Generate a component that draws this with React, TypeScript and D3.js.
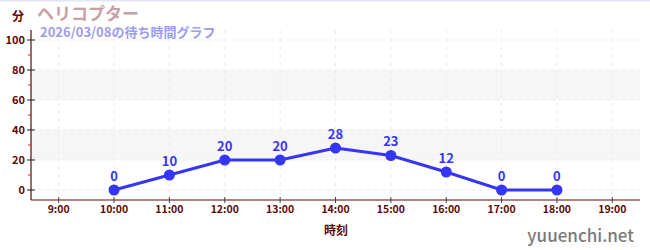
import React from "react";
import * as d3 from "d3";

const hours = [10, 11, 12, 13, 14, 15, 16, 17, 18];
const waits = [0, 10, 20, 20, 28, 23, 12, 0, 0];
const xTicks = [9, 10, 11, 12, 13, 14, 15, 16, 17, 18, 19];
const yTicks = [0, 20, 40, 60, 80, 100];
const yMinor = [10, 30, 50, 70, 90];
const bands = [[20, 40], [60, 80]];
const title = "ヘリコプター";
const subtitle = "2026/03/08の待ち時間グラフ";

const W = 650, H = 250;
const L = 31, R = 640, T = 30, B = 200;
const FONT = "'Noto Sans CJK JP', 'Noto Sans', sans-serif";

export default function App() {
  const x = d3.scaleLinear().domain([8.5, 19.5]).range([L, R]);
  const y = d3.scaleLinear().domain([-6.667, 106.667]).range([B, T]);
  const line = d3.line<number>().x((_, i) => x(hours[i])).y((d) => y(d));
  const axisColor = "#5a0a0a";
  return (
    <svg width={W} height={H} style={{ position: "absolute", left: 0, top: 0, background: "#fff" }}>
      <rect x={0} y={0} width={W} height={1.5} fill="#e4e4f8" />
      {bands.map(([a, b], i) => (
        <rect key={i} x={L} y={y(b)} width={R - L} height={y(a) - y(b)} fill="#f6f6f6" />
      ))}
      {yTicks.map((t) => (
        <line key={"gy" + t} x1={L} x2={R} y1={y(t)} y2={y(t)} stroke="#ebebeb" strokeDasharray="4,4" />
      ))}
      {xTicks.map((t) => (
        <line key={"gx" + t} x1={x(t)} x2={x(t)} y1={T} y2={B} stroke="#ebebeb" strokeDasharray="4,4" />
      ))}
      <line x1={L} x2={L} y1={T} y2={B} stroke={axisColor} strokeWidth={1.2} />
      <line x1={L} x2={R} y1={B} y2={B} stroke={axisColor} strokeWidth={1.2} />
      {yTicks.map((t) => (
        <g key={"yt" + t}>
          <line x1={L - 4} x2={L + 4} y1={y(t)} y2={y(t)} stroke="#222" strokeWidth={1} />
          <text x={L - 6} y={y(t) + 4} textAnchor="end" fontSize={11} fontWeight="bold" fill={axisColor} fontFamily={FONT}>{t}</text>
        </g>
      ))}
      {yMinor.map((t) => (
        <line key={"ym" + t} x1={L - 3} x2={L} y1={y(t)} y2={y(t)} stroke="#e02020" strokeWidth={1} />
      ))}
      {xTicks.map((t) => (
        <g key={"xt" + t}>
          <line x1={x(t)} x2={x(t)} y1={B - 3} y2={B + 3} stroke="#444" strokeWidth={1} />
          <text x={x(t)} y={B + 13} textAnchor="middle" fontSize={10.5} fontWeight="bold" fill={axisColor} fontFamily={FONT}>{`${t}:00`}</text>
        </g>
      ))}
      <path d={line(waits) || ""} fill="none" stroke="#3535f5" strokeWidth={3} />
      {waits.map((v, i) => (
        <g key={"p" + i}>
          <circle cx={x(hours[i])} cy={y(v)} r={5.5} fill="#3535f5" />
          <text x={x(hours[i])} y={y(v) - 9} textAnchor="middle" fontSize={13} fontWeight="bold" fill="#3535f5" fontFamily={FONT}>{v}</text>
        </g>
      ))}
      <text x={12} y={21} fontSize={12} fontWeight="bold" fill={axisColor} fontFamily={FONT}>分</text>
      <text x={37} y={20} fontSize={17} fontWeight="bold" fill="#c9a0a4" fontFamily={FONT}>{title}</text>
      <text x={40} y={36.5} fontSize={13} fontWeight="bold" fill="#9c9cf0" fontFamily={FONT}>{subtitle}</text>
      <text x={336} y={235} textAnchor="middle" fontSize={12} fontWeight="bold" fill={axisColor} fontFamily={FONT}>時刻</text>
      <text x={634} y={242} textAnchor="end" fontSize={17} fontWeight={500} fill="#7a7a7a" fontFamily={FONT}>yuuenchi.net</text>
    </svg>
  );
}
